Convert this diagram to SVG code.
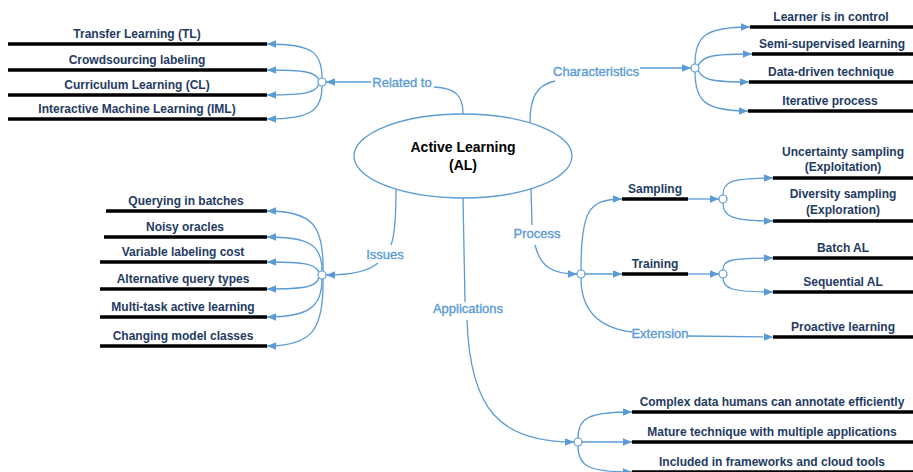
<svg xmlns="http://www.w3.org/2000/svg" width="913" height="472" viewBox="0 0 913 472">
<defs>
<marker id="arr" markerUnits="userSpaceOnUse" markerWidth="10" markerHeight="8" refX="9" refY="3.75" orient="auto">
<path d="M0,0 L9,3.75 L0,7.5 z" fill="#5B9BD5"/>
</marker>
<style>
.c{fill:none;stroke:#5B9BD5;stroke-width:1.3}
.a{marker-end:url(#arr)}
.j{fill:#fff;stroke:#5B9BD5;stroke-width:1.2}
.bar{stroke:#000;stroke-width:3.5}
.t{font-family:"Liberation Sans",Arial,sans-serif;font-weight:bold;font-size:12px;fill:#1F3B63;text-anchor:middle}
.l{font-family:"Liberation Sans",Arial,sans-serif;font-size:13px;fill:#5B9BD5;stroke:#5B9BD5;stroke-width:0.35;text-anchor:middle}
.m{font-family:"Liberation Sans",Arial,sans-serif;font-weight:bold;font-size:14px;fill:#000;text-anchor:middle}
</style>
</defs>
<rect width="913" height="472" fill="#fff"/>

<g id="connectors">
<path class="c" d="M463,114 C463,96 456,88 434,87"/>
<path class="c a" d="M371,82 L326,82"/>
<path class="c a" d="M322,78 C322,52 312,44 267,44"/>
<path class="c a" d="M319,80 C316,72 305,70 267,70"/>
<path class="c a" d="M319,84 C316,93 305,95 267,95"/>
<path class="c a" d="M322,86 C322,110 312,119 267,119"/>
<path class="c" d="M530,123 C530,100 535,85 555,81"/>
<path class="c a" d="M640,68 L691,68"/>
<path class="c a" d="M695,64 C695,36 705,27 750,27"/>
<path class="c a" d="M698,66 C702,56 712,54 752,54"/>
<path class="c a" d="M698,70 C702,80 712,82 749,82"/>
<path class="c a" d="M695,72 C695,101 705,111 748,111"/>
<path class="c" d="M396,189 C396,215 395,235 391,245"/>
<path class="c a" d="M378,263 C370,270 355,275 326,275"/>
<path class="c a" d="M323,271 C324,225 312,211 267,211"/>
<path class="c a" d="M322,271 C322,245 310,237 267,237"/>
<path class="c a" d="M319,273 C317,264 305,262 267,262"/>
<path class="c a" d="M319,277 C317,287 305,289 267,289"/>
<path class="c a" d="M322,279 C322,306 310,317 267,317"/>
<path class="c a" d="M323,279 C324,330 312,346 267,346"/>
<path class="c" d="M531,189 L532,225"/>
<path class="c a" d="M535,245 C540,265 550,274 577,274"/>
<path class="c a" d="M581,270 C581,212 588,199 622,199"/>
<path class="c a" d="M585,274 L622,274"/>
<path class="c" d="M581,278 C581,312 600,328 632,332"/>
<path class="c a" d="M688,336 L773,337"/>
<path class="c a" d="M688,199 L719,199"/>
<path class="c a" d="M723,195 C723,182 730,178 773,178"/>
<path class="c a" d="M723,203 C723,216 730,221 773,221"/>
<path class="c a" d="M688,274 L719,274"/>
<path class="c a" d="M723,270 C723,260 730,258 773,258"/>
<path class="c a" d="M723,278 C723,288 730,292 773,292"/>
<path class="c" d="M463,198 L465,302"/>
<path class="c a" d="M467,320 C470,410 500,442 574,442"/>
<path class="c a" d="M578,438 C578,418 588,412 632,412"/>
<path class="c a" d="M582,442 L632,442"/>
<path class="c a" d="M578,446 C578,466 588,472 632,472"/>
<circle class="j" cx="322" cy="82" r="4"/>
<circle class="j" cx="695" cy="68" r="4"/>
<circle class="j" cx="322" cy="275" r="4"/>
<circle class="j" cx="581" cy="274" r="4"/>
<circle class="j" cx="723" cy="199" r="4"/>
<circle class="j" cx="723" cy="274" r="4"/>
<circle class="j" cx="578" cy="442" r="4"/>
<text class="l" x="402" y="87">Related to</text>
<text class="l" x="596" y="76">Characteristics</text>
<text class="l" x="385" y="259">Issues</text>
<text class="l" x="537" y="238">Process</text>
<text class="l" x="468" y="313">Applications</text>
<text class="l" x="660" y="338">Extension</text>
</g>

<g id="center">
<ellipse cx="463" cy="156" rx="109" ry="42" fill="#fff" stroke="#5B9BD5" stroke-width="1.3"/>
<text class="m" x="463" y="152">Active Learning</text>
<text class="m" x="463" y="170">(AL)</text>
</g>

<g id="tl"><line class="bar" x1="8" y1="44" x2="267" y2="44"/><text class="t" x="137" y="38">Transfer Learning (TL)</text></g>
<g id="crowd"><line class="bar" x1="8" y1="70" x2="267" y2="70"/><text class="t" x="137" y="64">Crowdsourcing labeling</text></g>
<g id="cl"><line class="bar" x1="8" y1="95" x2="267" y2="95"/><text class="t" x="137" y="89">Curriculum Learning (CL)</text></g>
<g id="iml"><line class="bar" x1="8" y1="119" x2="267" y2="119"/><text class="t" x="137" y="113">Interactive Machine Learning (IML)</text></g>

<g id="learner"><line class="bar" x1="750" y1="27" x2="913" y2="27"/><text class="t" x="831" y="21">Learner is in control</text></g>
<g id="semi"><line class="bar" x1="752" y1="54" x2="913" y2="54"/><text class="t" x="832" y="48">Semi-supervised learning</text></g>
<g id="datadriven"><line class="bar" x1="749" y1="82" x2="913" y2="82"/><text class="t" x="831" y="76">Data-driven technique</text></g>
<g id="iterative"><line class="bar" x1="748" y1="111" x2="913" y2="111"/><text class="t" x="830" y="105">Iterative process</text></g>

<g id="batches"><line class="bar" x1="106" y1="211" x2="267" y2="211"/><text class="t" x="186" y="205">Querying in batches</text></g>
<g id="noisy"><line class="bar" x1="104" y1="237" x2="267" y2="237"/><text class="t" x="185" y="231">Noisy oracles</text></g>
<g id="variable"><line class="bar" x1="100" y1="262" x2="267" y2="262"/><text class="t" x="183" y="256">Variable labeling cost</text></g>
<g id="altquery"><line class="bar" x1="100" y1="289" x2="267" y2="289"/><text class="t" x="183" y="283">Alternative query types</text></g>
<g id="multitask"><line class="bar" x1="100" y1="317" x2="267" y2="317"/><text class="t" x="183" y="311">Multi-task active learning</text></g>
<g id="changing"><line class="bar" x1="100" y1="346" x2="267" y2="346"/><text class="t" x="183" y="340">Changing model classes</text></g>

<g id="sampling"><line class="bar" x1="622" y1="199" x2="688" y2="199"/><text class="t" x="655" y="193">Sampling</text></g>
<g id="training"><line class="bar" x1="622" y1="274" x2="688" y2="274"/><text class="t" x="655" y="268">Training</text></g>
<g id="uncertainty"><line class="bar" x1="773" y1="178" x2="913" y2="178"/><text class="t" x="843" y="156">Uncertainty sampling</text><text class="t" x="843" y="171">(Exploitation)</text></g>
<g id="diversity"><line class="bar" x1="773" y1="221" x2="913" y2="221"/><text class="t" x="843" y="198">Diversity sampling</text><text class="t" x="843" y="214">(Exploration)</text></g>
<g id="batchal"><line class="bar" x1="773" y1="258" x2="913" y2="258"/><text class="t" x="843" y="252">Batch AL</text></g>
<g id="seqal"><line class="bar" x1="773" y1="292" x2="913" y2="292"/><text class="t" x="843" y="286">Sequential AL</text></g>
<g id="proactive"><line class="bar" x1="773" y1="337" x2="913" y2="337"/><text class="t" x="843" y="331">Proactive learning</text></g>

<g id="complex"><line class="bar" x1="632" y1="412" x2="913" y2="412"/><text class="t" x="772" y="406">Complex data humans can annotate efficiently</text></g>
<g id="mature"><line class="bar" x1="632" y1="442" x2="913" y2="442"/><text class="t" x="772" y="436">Mature technique with multiple applications</text></g>
<g id="included"><line class="bar" x1="632" y1="472" x2="913" y2="472"/><text class="t" x="772" y="466">Included in frameworks and cloud tools</text></g>
</svg>
